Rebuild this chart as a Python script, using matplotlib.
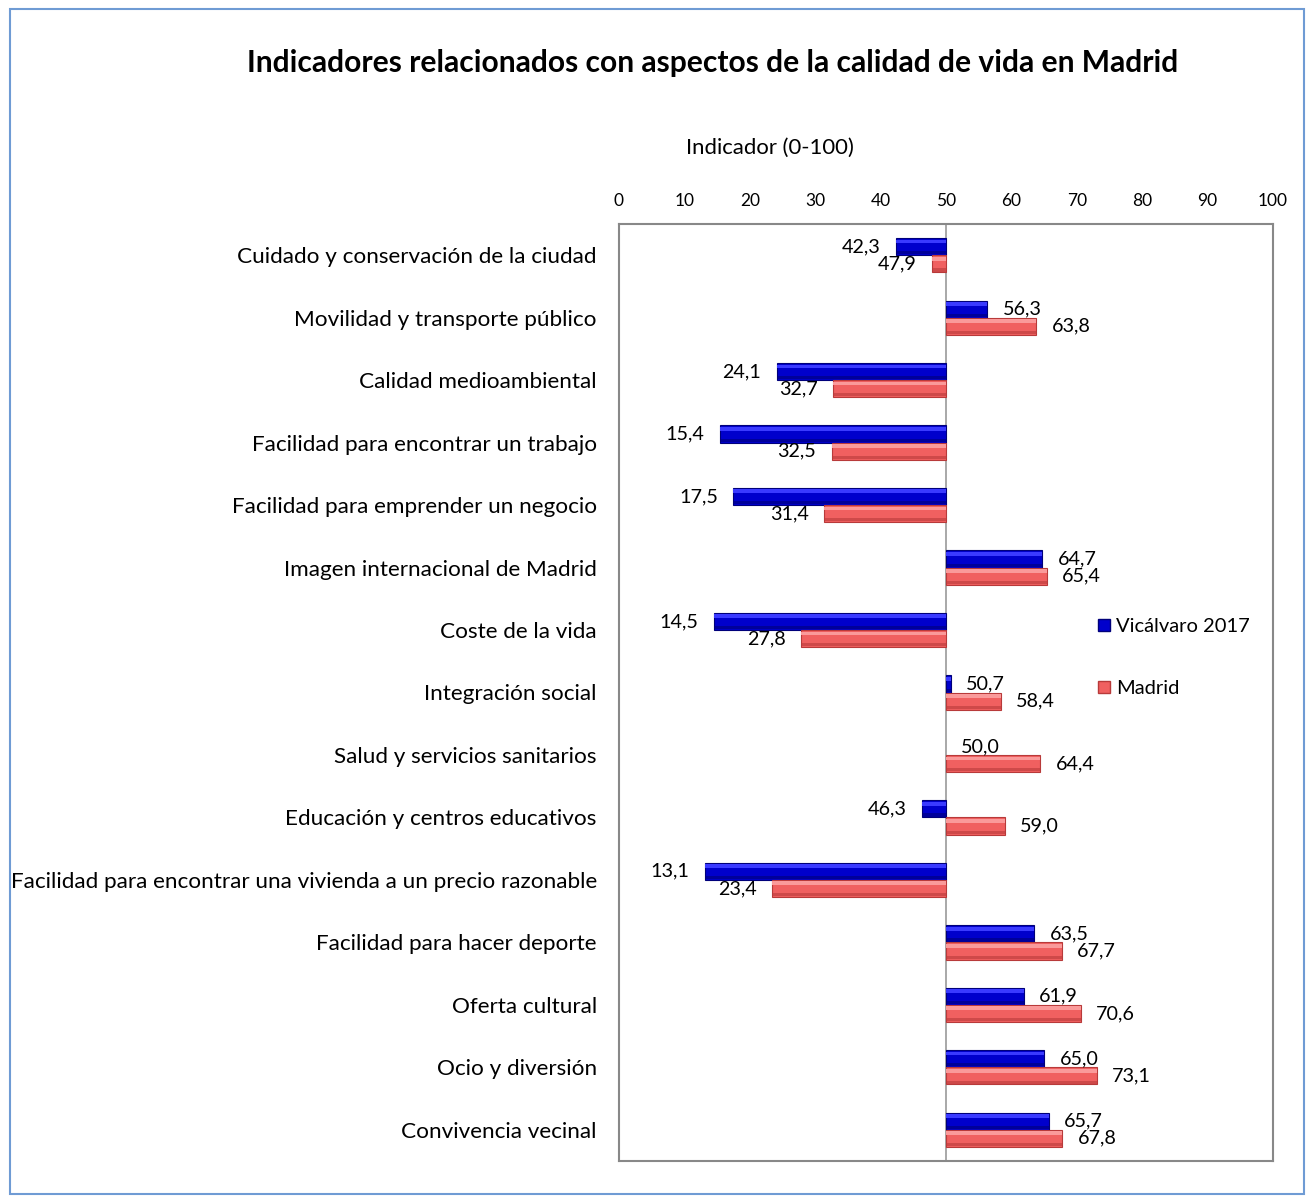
import matplotlib
matplotlib.use("Agg")
import matplotlib.pyplot as plt
from matplotlib.patches import Rectangle
from matplotlib.lines import Line2D

categories = [
    "Cuidado y conservación de la ciudad",
    "Movilidad y transporte público",
    "Calidad medioambiental",
    "Facilidad para encontrar un trabajo",
    "Facilidad para emprender un negocio",
    "Imagen internacional de Madrid",
    "Coste de la vida",
    "Integración social",
    "Salud y servicios sanitarios",
    "Educación y centros educativos",
    "Facilidad para encontrar una vivienda a un precio razonable",
    "Facilidad para hacer deporte",
    "Oferta cultural",
    "Ocio y diversión",
    "Convivencia vecinal",
]
vicalvaro = [42.3, 56.3, 24.1, 15.4, 17.5, 64.7, 14.5, 50.7, 50.0, 46.3, 13.1, 63.5, 61.9, 65.0, 65.7]
madrid = [47.9, 63.8, 32.7, 32.5, 31.4, 65.4, 27.8, 58.4, 64.4, 59.0, 23.4, 67.7, 70.6, 73.1, 67.8]
series_names = ["Vicálvaro 2017", "Madrid"]
xticks = [0, 10, 20, 30, 40, 50, 60, 70, 80, 90, 100]
base = 50

plt.rcParams['font.family'] = ['Lato', 'DejaVu Sans']

W, H = 1306, 1196
fig = plt.figure(figsize=(W / 100, H / 100), dpi=100)

# outer border
fig.patches.append(Rectangle((10 / W, 2 / H), (W - 12) / W, (H - 11) / H, transform=fig.transFigure,
                             fill=False, edgecolor='#6f9bd4', linewidth=1.5))

ax = fig.add_axes([619 / W, 1 - 1161 / H, (1273 - 619) / W, (1161 - 224) / H])
ax.set_xlim(0, 100)
ax.set_ylim(len(categories) - 0.5, -0.5)

bh = 0.275
styles = [
    dict(main='#0000CC', light='#3A3AFF', dark='#00007A'),
    dict(main='#F06060', light='#FA9A9A', dark='#B83A3A'),
]
offs = [-bh / 2, bh / 2]
for s, vals in enumerate([vicalvaro, madrid]):
    st = styles[s]
    ys = [i + offs[s] for i in range(len(categories))]
    widths = [v - base for v in vals]
    lws = [0.8 if w != 0 else 0 for w in widths]
    ax.barh(ys, widths, left=base, height=bh, color=st['main'], edgecolor=st['dark'], linewidth=lws, zorder=3)
    # bevel highlights
    ax.barh([y - bh * 0.3 for y in ys], widths, left=base, height=bh * 0.22, color=st['light'],
            linewidth=0, zorder=4)
    ax.barh([y + bh * 0.36 for y in ys], widths, left=base, height=bh * 0.18, color=st['dark'],
            linewidth=0, zorder=4, alpha=0.6)
    for y, v in zip(ys, vals):
        lab = f"{v:.1f}".replace('.', ',')
        if v >= base:
            ax.annotate(lab, (v, y), xytext=(11, 0), textcoords='offset points', ha='left', va='center',
                        fontsize=14.2, zorder=5)
        else:
            ax.annotate(lab, (v, y), xytext=(-11, 0), textcoords='offset points', ha='right', va='center',
                        fontsize=14.2, zorder=5)

ax.axvline(base, color='#999999', linewidth=1.2, zorder=2)

ax.xaxis.tick_top()
ax.set_xticks(xticks)
ax.set_xticklabels([str(t) for t in xticks], fontsize=12.5)
ax.tick_params(axis='x', length=0, pad=11)
ax.set_yticks(range(len(categories)))
ax.set_yticklabels(categories, fontsize=16.2)
ax.tick_params(axis='y', length=0, pad=16)
for sp in ax.spines.values():
    sp.set_color('#888888')
    sp.set_linewidth(1.5)

fig.text(713 / W, 1 - 63 / H, "Indicadores relacionados con aspectos de la calidad de vida en Madrid",
         ha='center', va='center', fontsize=21.6, fontweight='bold')
fig.text(770 / W, 1 - 148 / H, "Indicador (0-100)", ha='center', va='center', fontsize=15.9)

handles = [Line2D([], [], marker='s', linestyle='none', markersize=9, markerfacecolor=styles[0]['main'],
                  markeredgecolor=styles[0]['dark']),
           Line2D([], [], marker='s', linestyle='none', markersize=9, markerfacecolor=styles[1]['main'],
                  markeredgecolor=styles[1]['dark'])]
fig.legend(handles, series_names, loc='upper left', bbox_to_anchor=(1088 / W, 1 - 608 / H), frameon=False,
           fontsize=14.5, handlelength=0.6, handletextpad=0.3, labelspacing=2.2, borderpad=0)

fig.savefig("out.png", dpi=100)
